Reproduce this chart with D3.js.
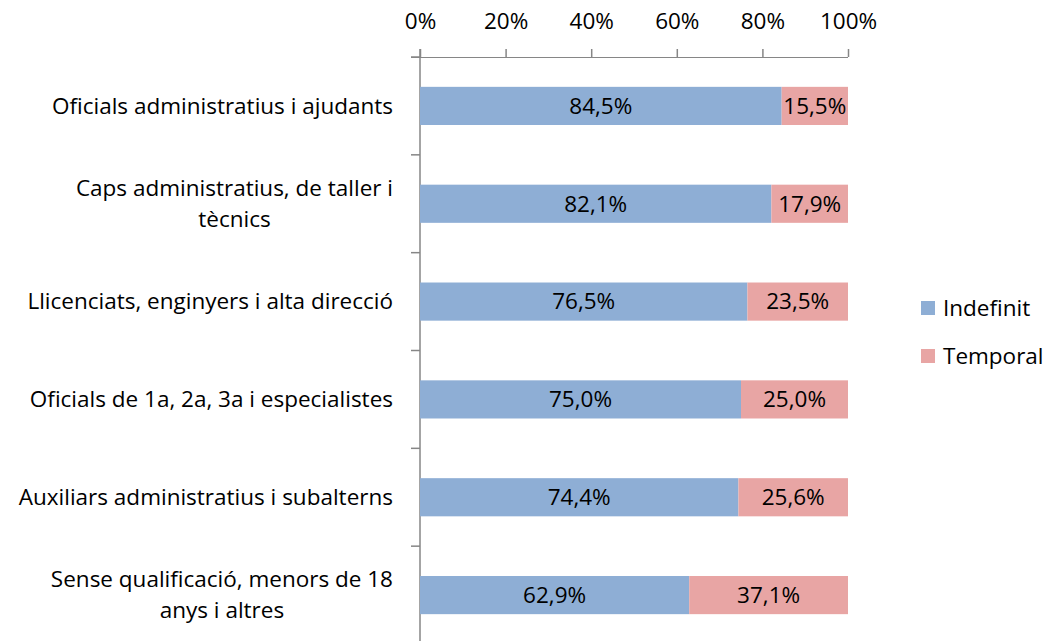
<!DOCTYPE html>
<html>
<head>
<meta charset="utf-8">
<style>
  body { margin: 0; background: #fff; }
  text { font-family: "Open Sans", sans-serif; fill: #000; font-variant-ligatures: none; }
  .axis path, .axis line { stroke: #868686; }
</style>
<script src="https://d3js.org/d3.v7.min.js"></script>
</head>
<body>
<script>
// categories, top to bottom; each label split into its lines
const categories = [
  ["Oficials administratius i ajudants"],
  ["Caps administratius, de taller i", "tècnics"],
  ["Llicenciats, enginyers i alta direcció"],
  ["Oficials de 1a, 2a, 3a i especialistes"],
  ["Auxiliars administratius i subalterns"],
  ["Sense qualificació, menors de 18", "anys i altres"]
];
const indefinit = [84.5, 82.1, 76.5, 75.0, 74.4, 62.9];
const temporal  = [15.5, 17.9, 23.5, 25.0, 25.6, 37.1];
const seriesNames = ["Indefinit", "Temporal"];
const seriesColors = ["#8eaed5", "#e8a5a4"];
const xTicks = [0, 20, 40, 60, 80, 100];

const width = 1049, height = 641;
const fs = 22.5;
const svg = d3.select("body").append("svg")
  .attr("width", width).attr("height", height);

const x = d3.scaleLinear().domain([0, 100]).range([420, 848]);
const y = d3.scaleBand().domain(d3.range(categories.length))
  .range([57, 644]).paddingInner(0.61).paddingOuter(0.305);
const yTicks = d3.scaleBand().domain(d3.range(categories.length)).range([57, 644]);

const fmt = v => v.toFixed(1).replace(".", ",") + "%";

// top axis
const xAxis = svg.append("g").attr("class", "axis")
  .attr("transform", "translate(0,57)")
  .call(d3.axisTop(x).tickValues(xTicks).tickSize(8).tickSizeOuter(0).tickFormat(d => d + "%"));
xAxis.select(".domain").attr("d", "M411,0.5H848");
xAxis.selectAll("text").attr("font-size", fs).attr("y", -36).attr("dy", "0.35em");
xAxis.selectAll("line").attr("stroke-width", 1.5);

// left axis
const yAxis = svg.append("g").attr("class", "axis");
yAxis.append("line").attr("x1", 420).attr("x2", 420).attr("y1", 49).attr("y2", height);
yAxis.selectAll("line.tick")
  .data(d3.range(categories.length + 1))
  .enter().append("line").attr("class", "tick")
  .attr("x1", 411).attr("x2", 420)
  .attr("y1", i => 57 + i * yTicks.step()).attr("y2", i => 57 + i * yTicks.step());
yAxis.selectAll("line").attr("stroke-width", 1.5);

// bars
const stacks = categories.map((c, i) => [
  { s: 0, x0: 0, x1: indefinit[i], v: indefinit[i], i },
  { s: 1, x0: indefinit[i], x1: indefinit[i] + temporal[i], v: temporal[i], i }
]).flat();

svg.selectAll("rect.bar").data(stacks).enter().append("rect")
  .attr("class", "bar")
  .attr("x", d => x(d.x0))
  .attr("width", d => x(d.x1) - x(d.x0))
  .attr("y", d => y(d.i))
  .attr("height", y.bandwidth())
  .attr("fill", d => seriesColors[d.s]);

svg.selectAll("text.val").data(stacks).enter().append("text")
  .attr("class", "val")
  .attr("x", d => (x(d.x0) + x(d.x1)) / 2)
  .attr("y", d => y(d.i) + y.bandwidth() / 2)
  .attr("dy", "0.35em")
  .attr("text-anchor", "middle")
  .attr("font-size", fs)
  .text(d => fmt(d.v));

// category labels
categories.forEach((lines, i) => {
  const cy = yTicks(i) + yTicks.bandwidth() / 2;
  const g = svg.append("g");
  const lh = 31;
  const t = g.selectAll("text").data(lines).enter().append("text")
    .attr("font-size", fs)
    .attr("text-anchor", "middle")
    .attr("y", (d, k) => cy + (k - (lines.length - 1) / 2) * lh)
    .attr("dy", "0.35em")
    .text(d => d);
  let maxW = 0;
  t.each(function () { maxW = Math.max(maxW, this.getComputedTextLength()); });
  t.attr("x", 393 - maxW / 2);
});

// legend
const legend = svg.append("g").selectAll("g").data(seriesNames).enter().append("g")
  .attr("transform", (d, i) => `translate(921,${301 + i * 48})`);
legend.append("rect").attr("width", 14).attr("height", 14)
  .attr("fill", (d, i) => seriesColors[i]);
legend.append("text").attr("x", 22).attr("y", 7).attr("dy", "0.35em")
  .attr("font-size", fs).text(d => d);
</script>
</body>
</html>
